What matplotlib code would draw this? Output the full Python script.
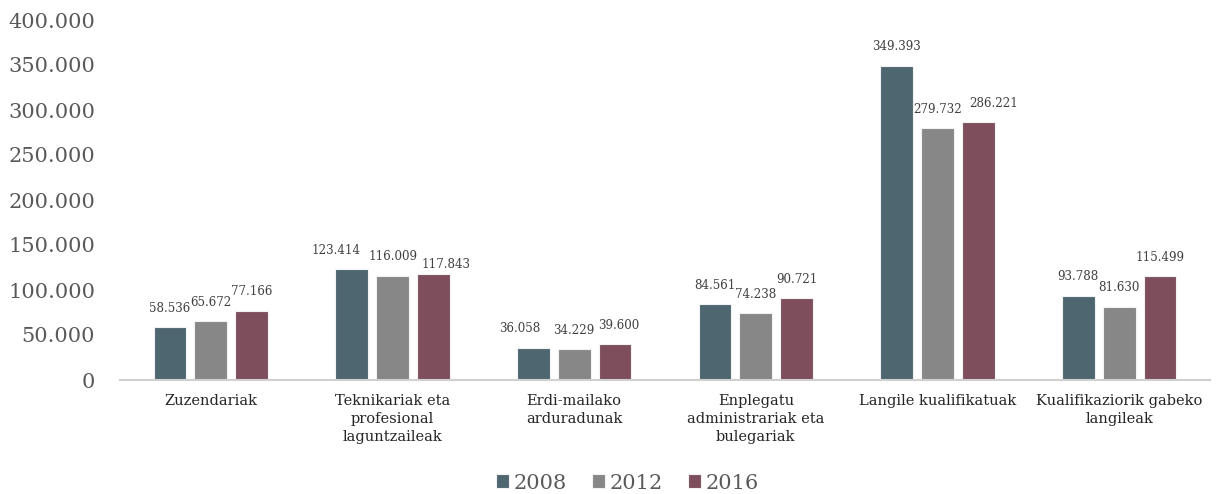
import numpy as np
import matplotlib
matplotlib.use('Agg')
import matplotlib.pyplot as plt
from matplotlib.ticker import FuncFormatter

categories = ['Zuzendariak', 'Teknikariak eta\nprofesional\nlaguntzaileak',
              'Erdi-mailako\narduradunak', 'Enplegatu\nadministrariak eta\nbulegariak',
              'Langile kualifikatuak', 'Kualifikaziorik gabeko\nlangileak']
years = ['2008', '2012', '2016']
v2008 = [58536, 123414, 36058, 84561, 349393, 93788]
v2012 = [65672, 116009, 34229, 74238, 279732, 81630]
v2016 = [77166, 117843, 39600, 90721, 286221, 115499]
colors = ['#4E6670', '#888787', '#7E4E5C']

# labels that were nudged by hand in the original (series, category): (dx, dy) in points
label_nudge = {(0, 1): (-11.5, 0), (2, 1): (9.4, -6.5),
               (0, 2): (-9.4, 0), (2, 2): (2.9, 0),
               (2, 4): (10.8, 0)}

plt.rcParams['font.family'] = ['DejaVu Serif']


def fmt(v):
    return f'{int(v):,}'.replace(',', '.')


fig = plt.figure(figsize=(12.2, 4.94), dpi=100)
ax = fig.add_axes([120 / 1220, 114 / 494, 1090 / 1220, 360 / 494])

x = np.arange(len(categories))
for i, (vals, c, yr) in enumerate(zip([v2008, v2012, v2016], colors, years)):
    pos = x + (i - 1) * 0.225
    bars = ax.bar(pos, vals, width=0.18, color=c, edgecolor='#f2f2f2', linewidth=0.8, label=yr)
    for j, (b, v) in enumerate(zip(bars, vals)):
        dx, dy = label_nudge.get((i, j), (0, 0))
        ax.annotate(fmt(v), (b.get_x() + b.get_width() / 2, v), xytext=(dx, 13.5 + dy),
                    textcoords='offset points', ha='center', va='center',
                    fontsize=8.6, color='#404040')

ax.set_xlim(-0.5, len(categories) - 0.5)
ax.set_ylim(0, 400000)
ax.set_yticks(np.arange(0, 400001, 50000))
ax.yaxis.set_major_formatter(FuncFormatter(lambda v, p: fmt(v)))
ax.set_xticks(x)
ax.set_xticklabels(categories, fontsize=10.5, color='#262626', linespacing=1.35)
ax.tick_params(axis='y', length=0, labelsize=15, labelcolor='#595959', pad=18)
ax.tick_params(axis='x', length=0, pad=10)
for s in ['top', 'right', 'left']:
    ax.spines[s].set_visible(False)
ax.spines['bottom'].set_color('#d0d0d0')
ax.spines['bottom'].set_linewidth(1.5)

fig.legend(loc='lower center', bbox_to_anchor=(0.514, -0.035), ncol=3, frameon=False,
           fontsize=15, handlelength=0.65, handleheight=0.65, handletextpad=0.2,
           columnspacing=1.2, labelcolor='#595959')

fig.savefig('out.png', dpi=100)
